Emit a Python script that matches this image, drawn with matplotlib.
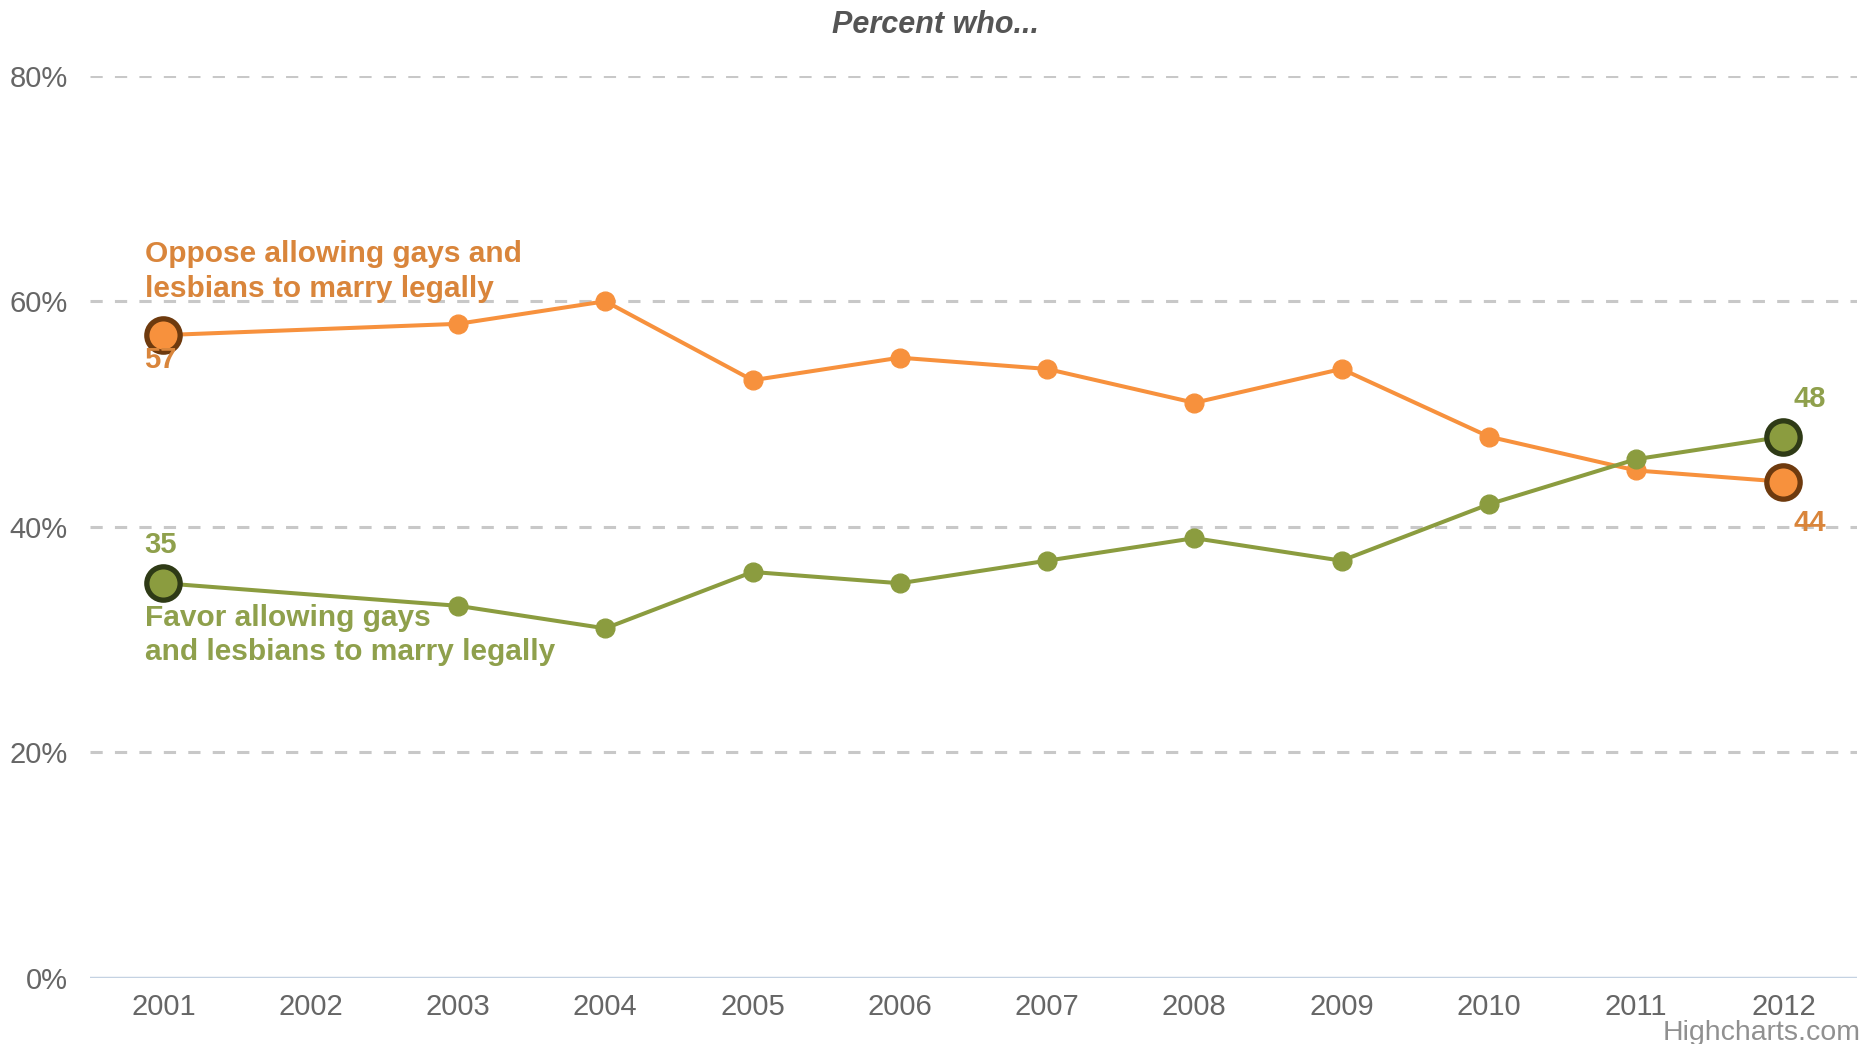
import matplotlib.pyplot as plt
import numpy as np

years = [2001, 2003, 2004, 2005, 2006, 2007, 2008, 2009, 2010, 2011, 2012]
oppose = [57, 58, 60, 53, 55, 54, 51, 54, 48, 45, 44]
favor = [35, 33, 31, 36, 35, 37, 39, 37, 42, 46, 48]
tick_years = list(range(2001, 2013))
y_ticks = [0, 20, 40, 60, 80]

orange = '#f7913d'
orange_dark = '#6e3a0e'
orange_text = '#d9853b'
green = '#8b9c3f'
green_dark = '#2e3a16'
green_text = '#8fa04c'

plt.rcParams['font.family'] = ['Liberation Sans', 'DejaVu Sans']

fig = plt.figure(figsize=(18.72, 10.44), dpi=100)
ax = fig.add_axes([0.048, 0.0632, 0.944, 0.8643])

# grid lines
for v in y_ticks[1:]:
    ax.axhline(v, color='#c8c8c8', lw=2.2, ls=(0, (4, 4)), zorder=1)
ax.axhline(0, color='#c4d2e2', lw=2.5, zorder=1)

ax.plot(years, oppose, color=orange, lw=2.9, marker='o', ms=13.5, mec=orange, zorder=3)
ax.plot(years, favor, color=green, lw=2.9, marker='o', ms=13.5, mec=green, zorder=3)

# highlighted endpoints
for i in [0, -1]:
    ax.plot(years[i], oppose[i], 'o', ms=24, mfc=orange, mec=orange_dark, mew=3.8, zorder=4)
    ax.plot(years[i], favor[i], 'o', ms=24, mfc=green, mec=green_dark, mew=3.8, zorder=4)

# data labels
lab = dict(fontsize=21, fontweight='bold', ha='center', va='center', zorder=5)
ax.text(years[0] - 0.02, oppose[0] - 2.2, str(oppose[0]), color=orange_text, **lab)
ax.text(years[0] - 0.02, favor[0] + 3.4, str(favor[0]), color=green_text, **lab)
ax.text(years[-1] + 0.18, favor[-1] + 3.3, str(favor[-1]), color=green_text, **lab)
ax.text(years[-1] + 0.18, oppose[-1] - 3.7, str(oppose[-1]), color=orange_text, **lab)

# series labels
ax.text(2000.875, 62.6, 'Oppose allowing gays and\nlesbians to marry legally', color=orange_text,
        fontsize=21.5, fontweight='bold', ha='left', va='center', linespacing=1.32, zorder=5)
ax.text(2000.875, 30.4, 'Favor allowing gays\nand lesbians to marry legally', color=green_text,
        fontsize=21.5, fontweight='bold', ha='left', va='center', linespacing=1.3, zorder=5)

ax.set_xlim(2000.5, 2012.5)
ax.set_ylim(0, 80)
ax.set_xticks(tick_years)
ax.set_xticklabels([str(y) for y in tick_years])
ax.set_yticks(y_ticks)
ax.set_yticklabels([f'{v}%' for v in y_ticks])
ax.tick_params(axis='both', length=0, labelsize=21, labelcolor='#666666')
ax.tick_params(axis='x', pad=11)
ax.tick_params(axis='y', pad=16)
for s in ax.spines.values():
    s.set_visible(False)

fig.text(0.5, 0.976, 'Percent who...', ha='center', va='center', fontsize=22,
         fontweight='bold', fontstyle='italic', color='#555555')
fig.text(0.994, 0.011, 'Highcharts.com', ha='right', va='center', fontsize=20.5, color='#909090')

fig.savefig('out.png', dpi=100)
